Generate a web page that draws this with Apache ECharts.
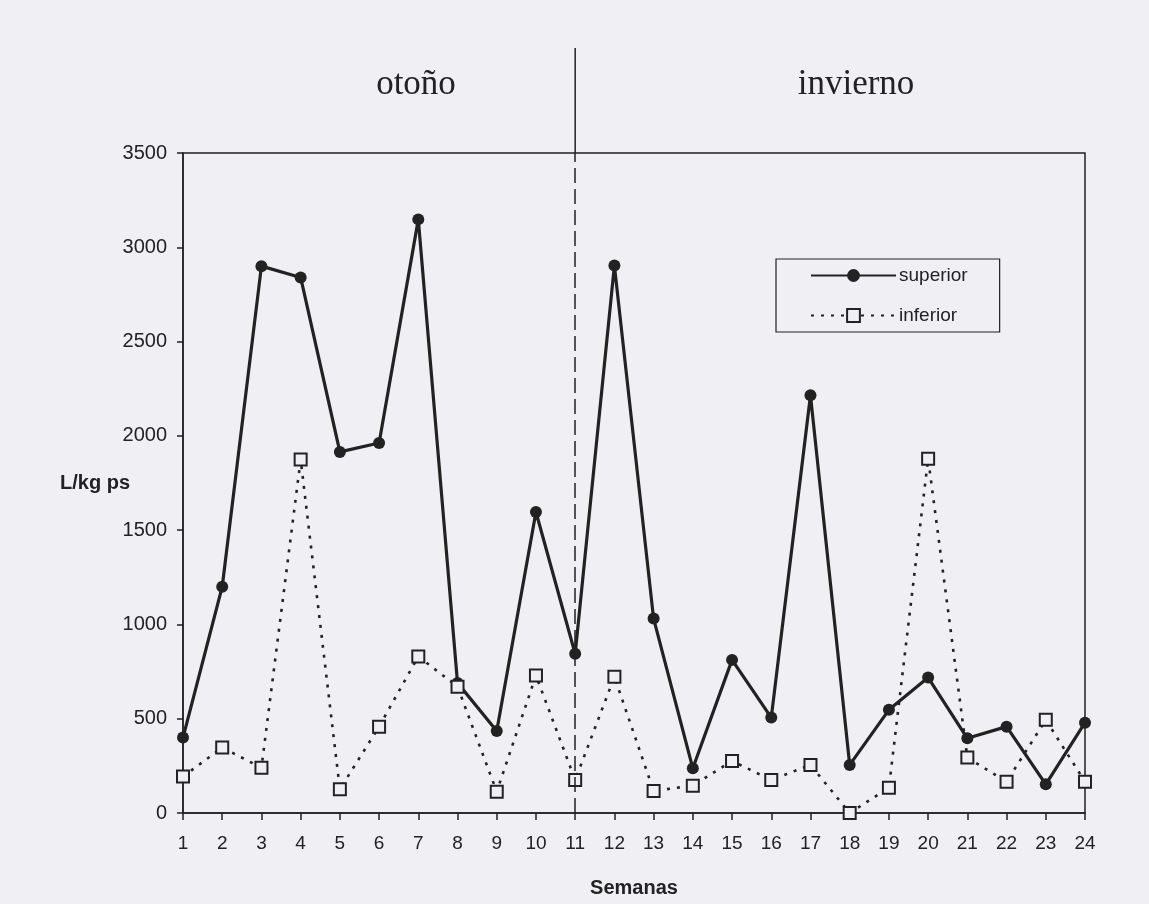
<!DOCTYPE html>
<html>
<head>
<meta charset="utf-8">
<script src="https://cdn.jsdelivr.net/npm/echarts@6/dist/echarts.min.js"></script>
<style>
  html, body { margin: 0; padding: 0; background: #f0eff3; }
  #chart { width: 1149px; height: 904px; }
</style>
</head>
<body>
<div id="chart"></div>
<script>
// Weeks of sampling (autumn: 1-11, winter: 11-24)
const weeks = ['1','2','3','4','5','6','7','8','9','10','11','12','13','14','15','16','17','18','19','20','21','22','23','24'];
// L/kg ps per week, upper layer
const superior = [400, 1200, 2900, 2840, 1915, 1962, 3148, 690, 435, 1596, 844, 2903, 1031, 237, 812, 506, 2215, 255, 547, 718, 396, 458, 152, 479];
// L/kg ps per week, lower layer
const inferior = [193, 347, 240, 1874, 126, 458, 830, 670, 113, 729, 175, 722, 117, 145, 276, 175, 255, 0, 134, 1879, 294, 166, 494, 166];
// Y axis ticks
const yMin = 0, yMax = 3500, yStep = 500;
// Week where the season changes
const seasonSplit = '11';
const seasons = ['otoño', 'invierno'];

const paper = '#f0eff3';
const ink = '#222222';
const sans = '"Liberation Sans", Arial, sans-serif';
const serif = '"Liberation Serif", "Times New Roman", serif';

const chart = echarts.init(document.getElementById('chart'), null, { renderer: 'canvas' });

chart.setOption({
  backgroundColor: paper,
  animation: false,
  graphic: [
    { type: 'text', x: 416, y: 85, style: { text: seasons[0], font: '35px ' + serif, fill: ink, textAlign: 'center', textVerticalAlign: 'middle' } },
    { type: 'text', x: 856, y: 85, style: { text: seasons[1], font: '35px ' + serif, fill: ink, textAlign: 'center', textVerticalAlign: 'middle' } }
  ],
  legend: {
    orient: 'vertical',
    left: 776,
    top: 259,
    data: ['superior', 'inferior'],
    itemWidth: 85,
    itemHeight: 16,
    itemGap: 21,
    padding: [7, 32, 7, 34],
    borderColor: ink,
    borderWidth: 1.2,
    textStyle: { fontFamily: sans, fontSize: 19, color: ink, padding: [0, 0, 0, -2] },
    selectedMode: false
  },
  grid: [
    { left: 183, right: 64, top: 153, bottom: 91, show: true, borderColor: ink, borderWidth: 1.5, backgroundColor: 'transparent' },
    { left: 183, right: 64, top: 48, height: 105, show: false }
  ],
  xAxis: [
    {
      type: 'category',
      gridIndex: 0,
      data: weeks,
      boundaryGap: false,
      name: 'Semanas',
      nameLocation: 'middle',
      nameGap: 65,
      nameMoveOverlap: false,
      nameTextStyle: { fontFamily: sans, fontSize: 20, fontWeight: 'bold', color: ink },
      axisLine: { lineStyle: { color: ink, width: 1.5 } },
      axisTick: { show: true, length: 7, alignWithLabel: true, lineStyle: { color: ink, width: 1.5 } },
      axisLabel: { fontFamily: sans, fontSize: 19, color: ink, margin: 21, interval: 0 },
      splitLine: { show: false }
    },
    {
      type: 'category',
      gridIndex: 1,
      data: weeks,
      boundaryGap: false,
      show: false
    }
  ],
  yAxis: [
    {
      type: 'value',
      gridIndex: 0,
      min: yMin,
      max: yMax,
      interval: yStep,
      name: 'L/kg ps',
      nameLocation: 'middle',
      nameRotate: 0,
      nameGap: 53,
      nameMoveOverlap: false,
      nameTextStyle: { fontFamily: sans, fontSize: 20, fontWeight: 'bold', color: ink },
      axisLine: { show: true, lineStyle: { color: ink, width: 1.5 } },
      axisTick: { show: true, length: 6, lineStyle: { color: ink, width: 1.5 } },
      axisLabel: { fontFamily: sans, fontSize: 20, color: ink, margin: 16, formatter: v => String(v) },
      splitLine: { show: false }
    },
    {
      type: 'value',
      gridIndex: 1,
      min: 0,
      max: 1,
      show: false
    }
  ],
  series: [
    {
      name: 'inferior',
      type: 'line',
      data: inferior,
      symbol: 'rect',
      symbolSize: 12,
      z: 3,
      lineStyle: { color: ink, width: 2.6, type: [3, 7] },
      itemStyle: { color: paper, borderColor: ink, borderWidth: 2 },
      emphasis: { disabled: true }
    },
    {
      name: 'superior',
      type: 'line',
      data: superior,
      symbol: 'circle',
      symbolSize: 12,
      z: 2,
      lineStyle: { color: ink, width: 3.2 },
      itemStyle: { color: ink },
      emphasis: { disabled: true },
      markLine: {
        silent: true,
        symbol: 'none',
        label: { show: false },
        lineStyle: { color: ink, width: 1.5, type: [15, 6] },
        data: [{ xAxis: seasonSplit }]
      }
    },
    {
      // season divider above the plot frame
      name: 'divider',
      type: 'line',
      xAxisIndex: 1,
      yAxisIndex: 1,
      data: [[seasonSplit, 0], [seasonSplit, 1]],
      symbol: 'none',
      silent: true,
      lineStyle: { color: ink, width: 1.5 }
    }
  ]
});
</script>
</body>
</html>
